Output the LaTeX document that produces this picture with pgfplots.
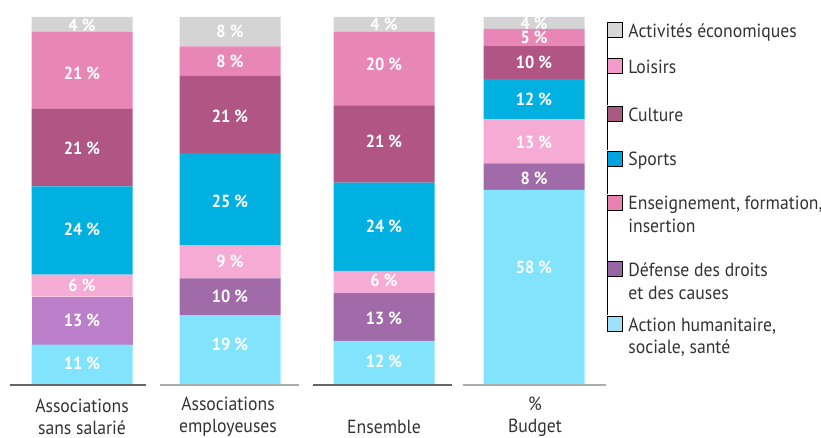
\documentclass[border=0pt]{standalone}
\usepackage{fontspec}
\setmainfont{PT Sans}[FakeStretch=0.93]
\usepackage{pgfplots}
\usepackage{pgfplotstable}
\pgfplotsset{compat=1.18}
\definecolor{cG}{HTML}{D4D4D4}
\definecolor{cL}{HTML}{E887B5}
\definecolor{cC}{HTML}{B05584}
\definecolor{cS}{HTML}{00B0E0}
\definecolor{cE}{HTML}{F5ABD3}
\definecolor{cD}{HTML}{A06BA8}
\definecolor{cDa}{HTML}{BB7FCA}
\definecolor{cA}{HTML}{82E3FC}
\definecolor{lG}{HTML}{D6D6D6}
\definecolor{lL}{HTML}{F29BCB}
\definecolor{lC}{HTML}{A65A80}
\definecolor{lS}{HTML}{00A3DF}
\definecolor{lE}{HTML}{E883B1}
\definecolor{lD}{HTML}{9767A5}
\definecolor{lA}{HTML}{9FE0F8}
\definecolor{txt}{HTML}{333333}

\pgfplotstableread{
x A D1 D2 E S C L G
82 11 13 0 6 24 21 21 4
230 19 0 10 9 25 21 8 8
384 12 0 13 6 24 21 20 4
534 53 0 7.25 11.95 10.9 9.1 4.55 3.25
}\bars

\pgfplotstableread{
x y lab
82 5.9 11
82 17.5 13
82 27 6
82 42.3 24
82 64.3 21
82 84.7 21
82 97.8 4
230 11.1 19
230 24 10
230 33.5 9
230 49.8 25
230 72.9 21
230 87.9 8
230 96.2 8
384 6.3 12
384 18.1 13
384 28.3 6
384 43.2 24
384 66.3 21
384 87.2 20
384 98.1 4
534 32.1 58
534 56.2 8
534 65.8 13
534 77.7 12
534 87.8 10
534 94.4 5
534 98.3 4
}\labels

\tikzset{ld/.store in=\legdepth, ld=0bp}
\newcommand\LE[1]{\begin{tabular}[t]{@{}l@{}}#1\end{tabular}}

\begin{document}
\begin{tikzpicture}
\useasboundingbox (0,0) rectangle (821bp,438bp);
\begin{axis}[at={(0,0)}, anchor=south west, scale only axis,
  width=821bp, height=438bp, xmin=0, xmax=821, ymin=-14.40, ymax=104.62,
  hide axis, clip=false, ybar stacked, bar width=101]
\addplot[fill=cA, draw=none] table[x=x,y=A] {\bars};
\addplot[fill=cDa, draw=none] table[x=x,y=D1] {\bars};
\addplot[fill=cD, draw=none] table[x=x,y=D2] {\bars};
\addplot[fill=cE, draw=none] table[x=x,y=E] {\bars};
\addplot[fill=cS, draw=none] table[x=x,y=S] {\bars};
\addplot[fill=cC, draw=none] table[x=x,y=C] {\bars};
\addplot[fill=cL, draw=none] table[x=x,y=L] {\bars};
\addplot[fill=cG, draw=none] table[x=x,y=G] {\bars};
\end{axis}
\begin{axis}[at={(0,0)}, anchor=south west, scale only axis,
  width=821bp, height=438bp, xmin=0, xmax=821, ymin=-14.40, ymax=104.62,
  hide axis, clip=false,
  legend cell align=left,
  legend image code/.code={\begin{scope}[#1]\fill (0bp,0bp) rectangle (15bp,15bp);
     \path (0bp,0bp) -- (0bp,-\legdepth);\end{scope}},
  legend style={at={(0.7393,0.9505)}, anchor=north west, draw=none, fill=none,
    inner sep=0pt, outer sep=0pt, row sep=0pt, column sep=6bp,
    nodes={inner sep=0pt, anchor=base west, text=txt},
    font=\fontsize{19bp}{22.5bp}\selectfont}]
\addplot[forget plot, only marks, mark=*, mark size=0pt, mark options={draw=none,fill=none},
  nodes near coords={\pgfplotspointmeta\ \%}, point meta=explicit symbolic,
  every node near coord/.append style={anchor=center, text=white, inner sep=0pt,
    font=\fontsize{17.5bp}{20bp}\selectfont\bfseries}]
  table[x=x, y=y, meta=lab] {\labels};
\addplot[forget plot, draw=black!60, line width=1.2bp] coordinates {(10,0) (146,0)};
\addplot[forget plot, draw=black!32, line width=2.5bp] coordinates {(160,0) (299,0)};
\addplot[forget plot, draw=black!60, line width=1.2bp] coordinates {(313,0) (452,0)};
\addplot[forget plot, draw=black!32, line width=2.5bp] coordinates {(463,0) (606,0)};
\addlegendimage{fill=lG, ld=20.1bp}\addlegendentry{\LE{Activités économiques}}
\addlegendimage{fill=lL, ld=31.9bp}\addlegendentry{\LE{Loisirs}}
\addlegendimage{fill=lC, ld=28.5bp}\addlegendentry{\LE{Culture}}
\addlegendimage{fill=lS, ld=28.1bp}\addlegendentry{\LE{Sports}}
\addlegendimage{fill=lE, ld=50.9bp}\addlegendentry{\LE{Enseignement, formation,\\insertion}}
\addlegendimage{fill=lD, ld=38.5bp}\addlegendentry{\LE{Défense des droits\\et des causes}}
\addlegendimage{fill=lA, ld=0bp}\addlegendentry{\LE{Action humanitaire,\\sociale, santé}}
\begin{scope}[every node/.style={text=txt, align=center, font=\fontsize{19bp}{21.5bp}\selectfont}]
\node at (axis cs:82,-8.6) {Associations\\sans salarié};
\node at (axis cs:228,-8.6) {Associations\\employeuses};
\node at (axis cs:384,-11.5) {Ensemble};
\node at (axis cs:535,-8.6) {\%\\Budget};
\end{scope}
\end{axis}
\end{tikzpicture}
\end{document}
